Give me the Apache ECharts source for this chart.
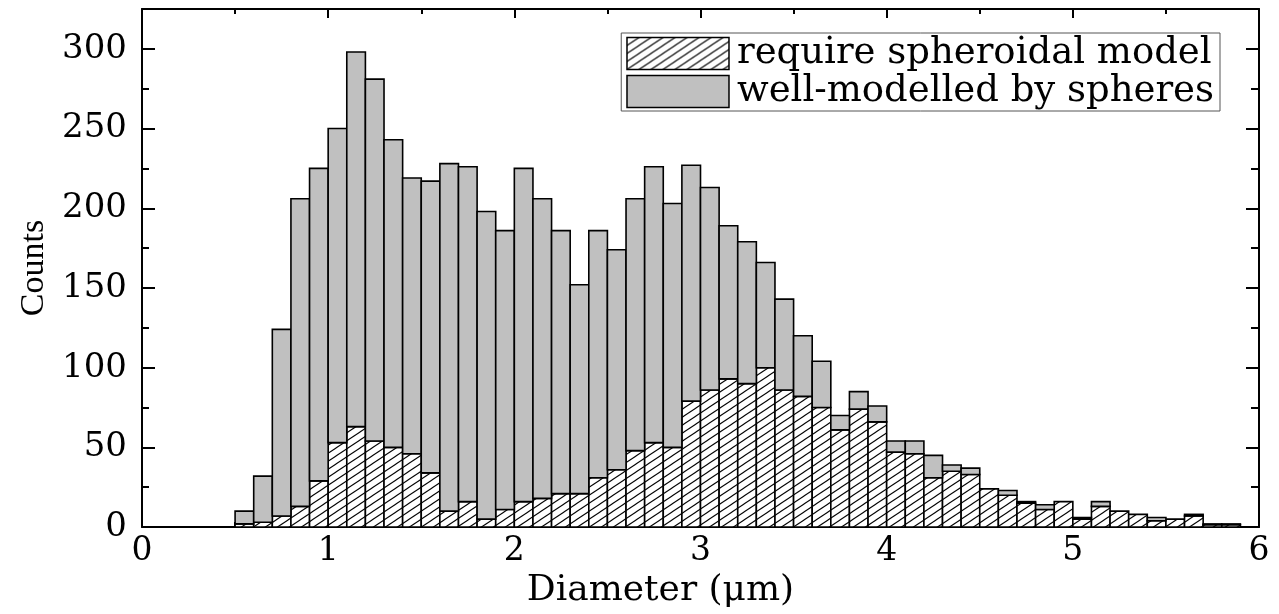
<!DOCTYPE html>
<html>
<head>
<meta charset="utf-8">
<script src="https://cdn.jsdelivr.net/npm/echarts@6/dist/echarts.min.js"></script>
<style>
html,body{margin:0;padding:0;background:#fff;}
#chart{width:1279px;height:614px;}
</style>
</head>
<body>
<div id="chart"></div>
<script>
// Histogram bins (left edges, µm), bin width 0.1 µm
const binLeft = [0.5,0.6,0.7,0.8,0.9,1.0,1.1,1.2,1.3,1.4,1.5,1.6,1.7,1.8,1.9,2.0,2.1,2.2,2.3,2.4,2.5,2.6,2.7,2.8,2.9,3.0,3.1,3.2,3.3,3.4,3.5,3.6,3.7,3.8,3.9,4.0,4.1,4.2,4.3,4.4,4.5,4.6,4.7,4.8,4.9,5.0,5.1,5.2,5.3,5.4,5.5,5.6,5.7,5.8];
const binWidth = 0.1;
// Counts requiring spheroidal model (hatched, bottom)
const spheroidal = [2,3,7,13,29,53,63,54,50,46,34,10,16,5,11,16,18,21,21,31,36,48,53,50,79,86,93,90,100,86,82,75,61,74,66,47,46,31,35,33,24,20,15,11,16,5,13,10,8,4,5,7,1.5,1.5];
// Counts well-modelled by spheres (grey, stacked on top)
const spheres = [8,29,117,193,196,197,235,227,193,173,183,218,210,193,175,209,188,165,131,155,138,158,173,153,148,127,96,89,66,57,38,29,9,11,10,7,8,14,4,4,0,3,1,3,0,1,3,0,0,2,0,1,0.5,0.5];
const xTicks = [0,1,2,3,4,5,6];
const yTicks = [0,50,100,150,200,250,300];
const seriesNames = ['require spheroidal model','well-modelled by spheres'];

// hatch pattern
const tile = document.createElement('canvas');
const TW = 12, TH = 8;
tile.width = TW; tile.height = TH;
const tc = tile.getContext('2d');
tc.fillStyle = '#fff'; tc.fillRect(0,0,TW,TH);
tc.strokeStyle = '#000'; tc.lineWidth = 1.1;
for (let k = -1; k <= 1; k++) {
  tc.beginPath();
  tc.moveTo(-2, TH + k*TH + 2*TH/TW);
  tc.lineTo(TW + 2, k*TH - 2*TH/TW);
  tc.stroke();
}
const hatch = {image: tile, repeat: 'repeat'};
const grey = '#c0c0c0';

const hatchData = binLeft.map((x, i) => [x, x + binWidth, 0, spheroidal[i]]);
const greyData = binLeft.map((x, i) => [x, x + binWidth, spheroidal[i], spheres[i]]);

function makeRender(fill) {
  return function (params, api) {
    const x0 = api.value(0), x1 = api.value(1), b = api.value(2), v = api.value(3);
    if (!(v > 0)) return null;
    const p0 = api.coord([x0, b]);
    const p1 = api.coord([x1, b + v]);
    return {
      type: 'rect',
      shape: {x: p0[0], y: p1[1], width: p1[0] - p0[0], height: p0[1] - p1[1]},
      style: {fill: fill, stroke: '#000', lineWidth: 1.6}
    };
  };
}

const font = 'DejaVu Serif';
const chart = echarts.init(document.getElementById('chart'), null, {renderer: 'canvas'});
const axisLine = {show: true, onZero: false, lineStyle: {color: '#000', width: 2}};

chart.setOption({
  animation: false,
  backgroundColor: '#fff',
  grid: {left: 142, right: 20, top: 9, bottom: 77, containLabel: false},
  legend: {
    orient: 'vertical',
    right: 59, top: 33,
    itemWidth: 102, itemHeight: 32, itemGap: 1,
    padding: [2, 6, 1, 5],
    borderColor: '#555', borderWidth: 1,
    backgroundColor: '#fff',
    icon: 'rect',
    selectedMode: false,
    textStyle: {fontFamily: font, fontSize: 37, color: '#000', lineHeight: 32, padding: [0, 0, 0, 3]},
    data: [
      {name: seriesNames[0], icon: 'rect', itemStyle: {color: hatch, borderColor: '#000', borderWidth: 1.5}},
      {name: seriesNames[1], icon: 'rect', itemStyle: {color: grey, borderColor: '#000', borderWidth: 1.5}}
    ]
  },
  xAxis: [
    {
      type: 'value', position: 'bottom', min: xTicks[0], max: xTicks[xTicks.length - 1], interval: 1,
      name: 'Diameter (μm)', nameLocation: 'middle', nameGap: 35,
      nameTextStyle: {fontFamily: font, fontSize: 36, color: '#000', padding: [0, 80, 0, 0]},
      axisLine: axisLine,
      axisTick: {show: true, inside: true, length: 9, lineStyle: {color: '#000', width: 2}},
      minorTick: {show: true, splitNumber: 2, length: 5, lineStyle: {color: '#000', width: 2}},
      axisLabel: {fontFamily: font, fontSize: 33, color: '#000', margin: 8},
      splitLine: {show: false}
    },
    {
      type: 'value', position: 'top', min: xTicks[0], max: xTicks[xTicks.length - 1], interval: 1,
      axisLine: axisLine,
      axisTick: {show: true, inside: true, length: 9, lineStyle: {color: '#000', width: 2}},
      minorTick: {show: true, splitNumber: 2, length: 5, lineStyle: {color: '#000', width: 2}},
      axisLabel: {show: false},
      splitLine: {show: false}
    }
  ],
  yAxis: [
    {
      type: 'value', position: 'left', min: yTicks[0], max: 325, interval: 50,
      name: 'Counts', nameLocation: 'middle', nameGap: 86,
      nameTextStyle: {fontFamily: 'Liberation Serif', fontSize: 34, color: '#000'},
      axisLine: axisLine,
      axisTick: {show: true, inside: true, length: 13, lineStyle: {color: '#000', width: 2}},
      minorTick: {show: true, splitNumber: 2, length: 7, lineStyle: {color: '#000', width: 2}},
      axisLabel: {fontFamily: font, fontSize: 34, color: '#000', margin: 15, showMaxLabel: false},
      splitLine: {show: false}
    },
    {
      type: 'value', position: 'right', min: yTicks[0], max: 325, interval: 50,
      axisLine: axisLine,
      axisTick: {show: true, inside: true, length: 13, lineStyle: {color: '#000', width: 2}},
      minorTick: {show: true, splitNumber: 2, length: 8, lineStyle: {color: '#000', width: 2}},
      axisLabel: {show: false},
      splitLine: {show: false}
    }
  ],
  series: [
    {
      name: seriesNames[0], type: 'custom', xAxisIndex: 0, yAxisIndex: 0,
      renderItem: makeRender(hatch), data: hatchData,
      encode: {x: [0, 1], y: [2, 3]},
      itemStyle: {color: hatch, borderColor: '#000'}, z: 2
    },
    {
      name: seriesNames[1], type: 'custom', xAxisIndex: 0, yAxisIndex: 0,
      renderItem: makeRender(grey), data: greyData,
      encode: {x: [0, 1], y: [2, 3]},
      itemStyle: {color: grey, borderColor: '#000'}, z: 2
    }
  ]
});
</script>
</body>
</html>
